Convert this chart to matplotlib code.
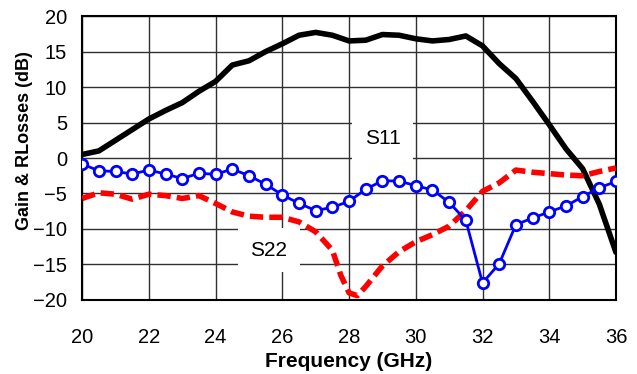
import numpy as np
import matplotlib.pyplot as plt

plt.rcParams['font.family'] = ['Liberation Sans', 'DejaVu Sans']

# gain curve (black)
gain_f = [20, 20.5, 21, 21.5, 22, 22.5, 23, 23.5, 24, 24.5, 25, 25.5, 26, 26.5, 27,
          27.5, 28, 28.5, 29, 29.5, 30, 30.5, 31, 31.5, 32, 32.5, 33, 33.5, 34, 34.5,
          35, 35.5, 36]
gain_db = [0.5, 1.0, 2.5, 4.0, 5.5, 6.7, 7.8, 9.4, 10.8, 13.1, 13.7, 15.0, 16.1, 17.3, 17.7,
           17.3, 16.5, 16.6, 17.4, 17.3, 16.8, 16.5, 16.7, 17.2, 15.8, 13.3, 11.2, 8.0, 4.7, 1.3,
           -1.5, -6.5, -13.3]

# S11 (blue, circles)
s11_f = [20, 20.5, 21, 21.5, 22, 22.5, 23, 23.5, 24, 24.5, 25, 25.5, 26, 26.5, 27,
         27.5, 28, 28.5, 29, 29.5, 30, 30.5, 31, 31.5, 32, 32.5, 33, 33.5, 34, 34.5,
         35, 35.5, 36]
s11_db = [-0.85, -1.8, -1.9, -2.25, -1.7, -2.25, -2.9, -2.15, -2.3, -1.55, -2.5, -3.7, -5.2, -6.4, -7.4,
          -6.95, -6.1, -4.4, -3.2, -3.25, -3.9, -4.5, -6.25, -8.8, -17.6, -14.9, -9.4, -8.45, -7.6, -6.75,
          -5.45, -4.2, -3.3]

# S22 (red, dashed)
s22_f = [20, 20.5, 21, 21.5, 22, 22.5, 23, 23.5, 24, 24.5, 25, 25.5, 26, 26.5, 27,
         27.5, 27.75, 28, 28.25, 28.5, 29, 29.5, 30, 30.5, 31, 31.5, 32, 32.5, 33, 33.5,
         34, 34.5, 35, 35.5, 36]
s22_db = [-5.7, -4.9, -5.1, -5.8, -5.1, -5.3, -5.7, -5.3, -6.4, -7.6, -8.2, -8.35, -8.35, -9.0, -10.4,
          -13.0, -16.5, -19.0, -19.4, -18.1, -15.2, -13.2, -11.8, -10.8, -9.6, -7.4, -4.7, -3.5, -1.7, -2.0,
          -2.2, -2.4, -2.5, -1.9, -1.4]

x_ticks = np.arange(20, 37, 2)
y_ticks = np.arange(-20, 21, 5)

fig = plt.figure(figsize=(6.37, 3.74), dpi=100)
ax = fig.add_axes([0.129, 0.198, 0.838, 0.759])

ax.plot(gain_f, gain_db, color='black', lw=4, solid_capstyle='round', zorder=3)
ax.plot(s22_f, s22_db, color='#ff0000', lw=4, dashes=(2.4, 1.1), zorder=3)
ax.plot(s11_f, s11_db, color='#0000ff', lw=2, marker='o', ms=7.5, mfc='white',
        mec='#0000ff', mew=2, zorder=4)

ax.set_xlim(20, 36)
ax.set_ylim(-20, 20)
ax.set_xticks(x_ticks)
ax.set_yticks(y_ticks)
ax.grid(True, color='#303030', lw=1)
ax.tick_params(length=0, labelsize=14.5)
ax.tick_params(axis='x', pad=20)
ax.tick_params(axis='y', pad=11)
for s in ax.spines.values():
    s.set_linewidth(1.5)

ax.set_xlabel('Frequency (GHz)', fontsize=15, fontweight='bold')
ax.xaxis.set_label_coords(0.5, -0.183)
ax.xaxis.label.set_va('top')
ax.set_ylabel('Gain & RLosses (dB)', fontsize=13, fontweight='bold')
ax.yaxis.set_label_coords(-0.092, 0.563)

ax.text(29.0, 2.7, 'S11', fontsize=15, ha='center', va='center', zorder=5,
        bbox=dict(facecolor='white', edgecolor='none', pad=9))
ax.text(25.6, -13.0, 'S22', fontsize=15, ha='center', va='center', zorder=5,
        bbox=dict(facecolor='white', edgecolor='none', pad=9))

fig.savefig('out.png', dpi=100)
